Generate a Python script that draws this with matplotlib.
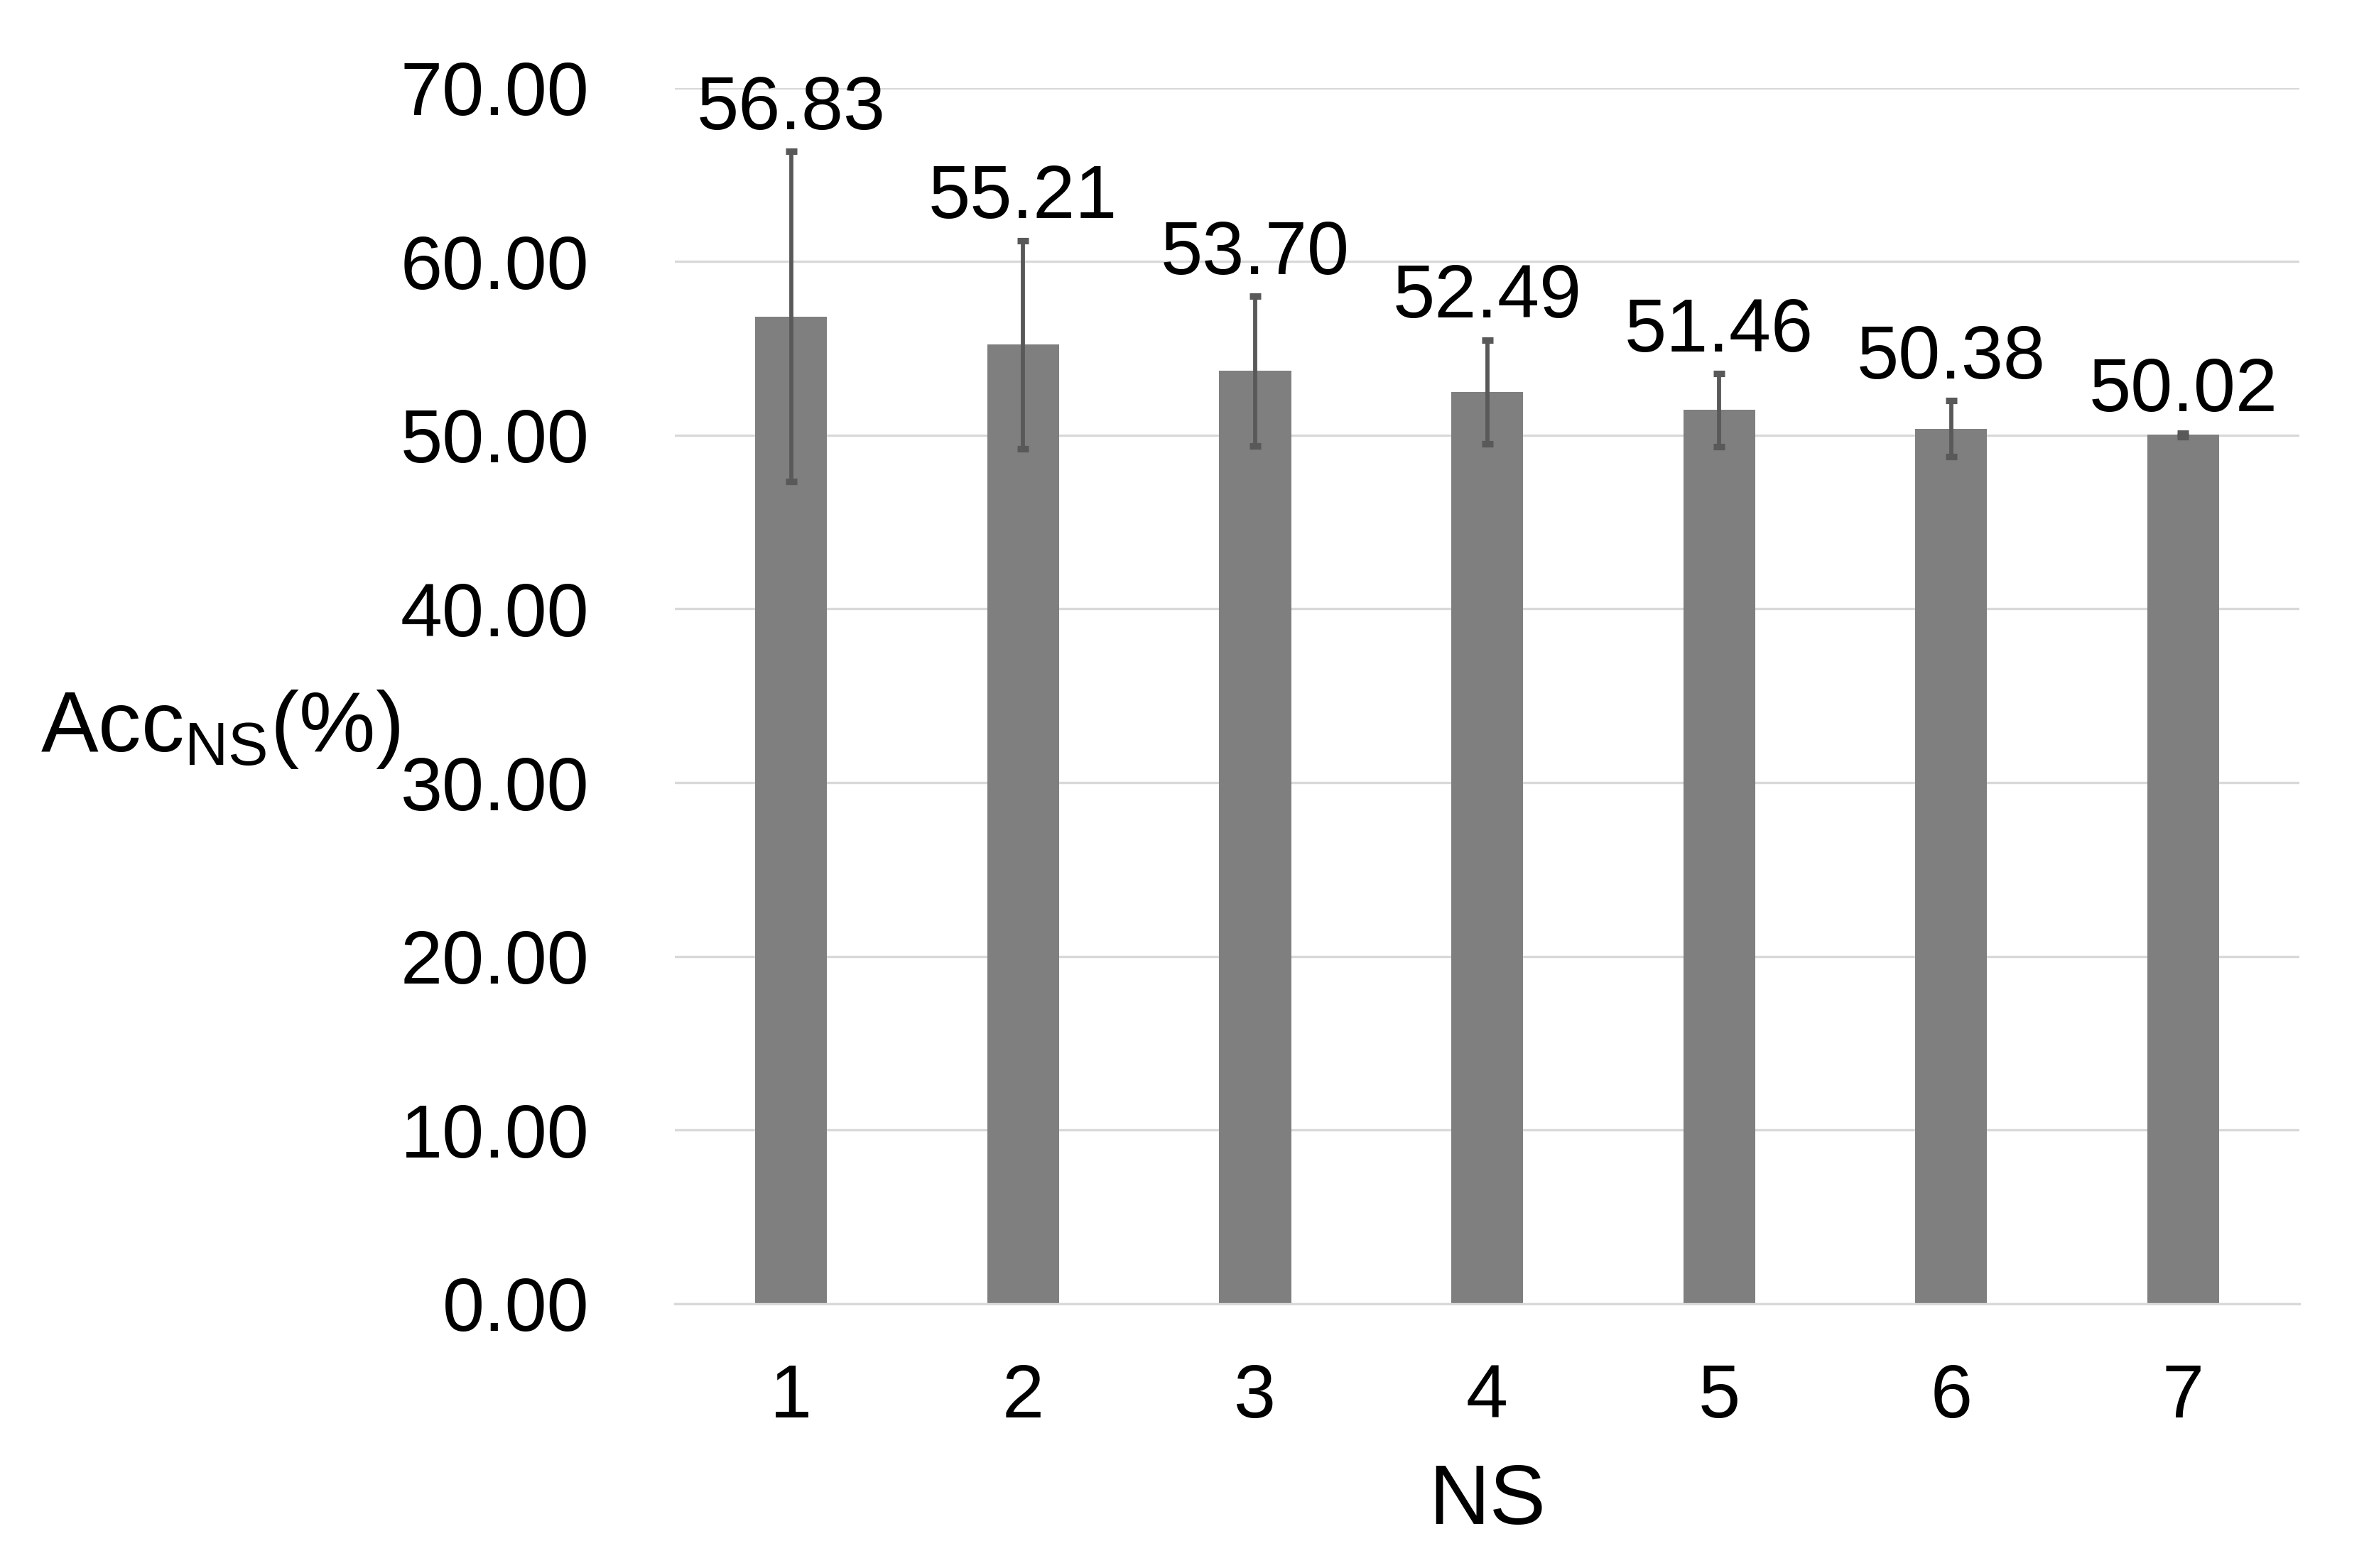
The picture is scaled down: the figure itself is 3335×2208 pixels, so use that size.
import numpy as np
import matplotlib.pyplot as plt

plt.rcParams['font.family'] = ['Liberation Sans', 'DejaVu Sans']
plt.rcParams['mathtext.fontset'] = 'custom'
plt.rcParams['mathtext.rm'] = 'Liberation Sans'

ns = ['1', '2', '3', '4', '5', '6', '7']
acc = [56.83, 55.21, 53.70, 52.49, 51.46, 50.38, 50.02]
err = [9.5, 6.0, 4.3, 3.0, 2.1, 1.6, 0.1]
yticks = [0, 10, 20, 30, 40, 50, 60, 70]

fig = plt.figure(figsize=(3335 / 300, 2208 / 300), dpi=300)
ax = fig.add_axes([0.285, 0.1685, 0.6855, 0.7755])

x = np.arange(len(ns))
ax.bar(x, acc, width=0.31, color='#7f7f7f', zorder=2,
       yerr=err, error_kw=dict(ecolor='#595959', elinewidth=1.4, capsize=2, capthick=2.2))

for xi, v, e in zip(x, acc, err):
    ax.annotate('%.2f' % v, (xi, v + e), xytext=(0, 7.5), textcoords='offset points',
                ha='center', va='baseline', fontsize=25.5)

ax.set_xlim(-0.5, len(ns) - 0.5)
ax.set_ylim(0, 70)
ax.set_yticks(yticks)
ax.set_yticklabels(['%.2f' % t for t in yticks], fontsize=25.5)
ax.set_xticks(x)
ax.set_xticklabels(ns, fontsize=25.5)
ax.tick_params(axis='y', length=0, pad=29)
ax.tick_params(axis='x', length=0, pad=20)
ax.grid(axis='y', color='#d9d9d9', linewidth=0.8, zorder=0)
ax.set_axisbelow(True)
for s in ['top', 'right', 'left']:
    ax.spines[s].set_visible(False)
ax.spines['bottom'].set_color('#d9d9d9')
ax.spines['bottom'].set_linewidth(0.8)

ax.set_xlabel('NS', fontsize=28.5, labelpad=10)
fig.text(0.093, 0.535, r'Acc$_{\mathrm{NS}}$(%)', fontsize=29, ha='center', va='center')

fig.savefig('out.png', dpi=300)
